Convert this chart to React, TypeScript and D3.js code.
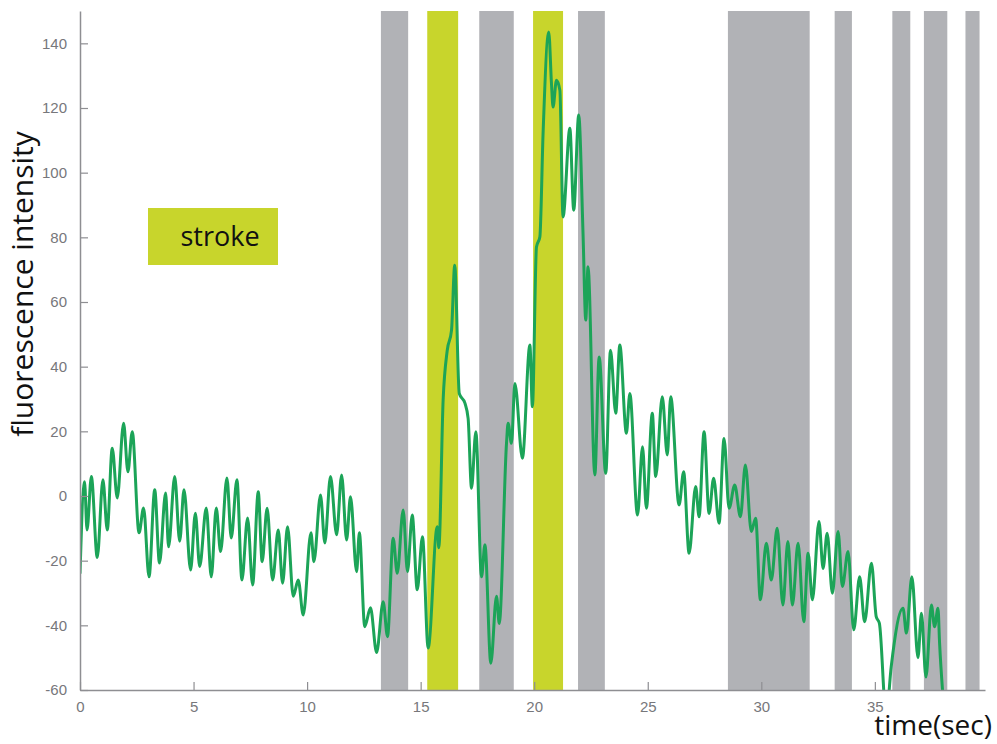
import * as d3 from "d3";
import { useEffect, useRef } from "react";

// trace: time (s) and fluorescence intensity
const times = [
  0, 0.2, 0.31, 0.5, 0.76, 1.01, 1.2, 1.42, 1.64, 1.92, 2.11, 2.3, 2.6, 2.8, 3.04, 3.29, 3.5, 3.77, 3.9, 4.17,
  4.39, 4.58, 4.87, 5.08, 5.27, 5.56, 5.78, 6.0, 6.19, 6.47, 6.66, 6.91, 7.13, 7.38, 7.6, 7.85, 8.02, 8.24, 8.48, 8.73,
  8.92, 9.14, 9.39, 9.61, 9.83, 10.17, 10.3, 10.59, 10.78, 11.03, 11.3, 11.52, 11.74, 11.91, 12.18, 12.3, 12.54, 12.79, 13.06, 13.35,
  13.54, 13.79, 13.97, 14.23, 14.42, 14.63, 14.85, 15.08, 15.33, 15.73, 15.8, 15.99, 16.17, 16.36, 16.5, 16.7, 16.95, 17.09, 17.24, 17.43,
  17.68, 17.83, 18.09, 18.34, 18.46, 18.78, 18.85, 19.0, 19.15, 19.48, 19.81, 19.92, 20.1, 20.25, 20.39, 20.64, 20.76, 20.83, 20.98, 21.13,
  21.27, 21.57, 21.74, 21.96, 22.15, 22.27, 22.37, 22.67, 22.86, 23.15, 23.36, 23.59, 23.77, 24.06, 24.21, 24.55, 24.77, 24.94, 25.2, 25.35,
  25.64, 25.86, 26.01, 26.38, 26.58, 26.82, 27.11, 27.26, 27.48, 27.7, 27.9, 28.14, 28.36, 28.58, 28.83, 29.08, 29.3, 29.56, 29.75, 29.96,
  30.22, 30.44, 30.7, 30.95, 31.17, 31.37, 31.62, 31.87, 32.06, 32.25, 32.54, 32.72, 32.9, 33.13, 33.38, 33.57, 33.82, 34.07, 34.33, 34.55,
  34.85, 35.06, 35.2, 35.5, 35.72, 36.24, 36.39, 36.63, 36.9, 37.05, 37.25, 37.49, 37.63, 37.78, 37.85, 38.0,
];
const intensity = [
  -24, 4.4, -10.5, 6, -19, 5, -10.5, 14.8, -0.6, 22.5, 7.5, 19.9, -11.4, -3.7, -25, 1.9, -20.7, 0.9, -15.7, 6,
  -14, 1.9, -22.9, -5.3, -21.8, -3.7, -25, -3.7, -17.2, 5.6, -13, 5, -26, -6.8, -27.5, 1.3, -20.3, -3.8, -26, -10.5,
  -27, -9.5, -31, -26, -36.8, -11.4, -20.3, 0.3, -14.5, 6, -12, 6.5, -13.6, -0.2, -23.4, -11.4, -40.4, -34.6, -48.4, -32.7,
  -43.5, -13.1, -23.9, -4.3, -23.4, -5.9, -29, -12.6, -47, -9.5, -16, 29.7, 45, 51.3, 71.4, 31.7, 28.7, 24, 2.4, 19.9,
  -25, -15.1, -51.7, -31, -39.4, 16.3, 22.5, 16.3, 34.8, 11.7, 46.7, 27.6, 77, 80.2, 112, 143.5, 127.6, 120.3, 128.6, 125.5,
  86.3, 113.7, 88.4, 117.8, 81.2, 54.4, 70.9, 6.5, 43, 7, 45.1, 25.6, 46.7, 19.4, 31.7, -5.9, 15.2, -3.8, 25.6, 6,
  30.7, 12.7, 30.7, -2.8, 7.5, -17.7, 2.9, -6.4, 19.9, -5.4, 5.5, -8.4, 17.8, -3.8, 3.4, -6.4, 9.6, -11, -6.9, -32.1,
  -14.6, -26, -10, -33.7, -14.1, -33.7, -14.6, -38.9, -17.7, -32.1, -7.9, -22.4, -11.5, -30.1, -11, -28, -17.2, -41.4, -25, -38.9,
  -20.8, -37.3, -39.4, -68, -52.8, -34.7, -42.4, -25, -50, -36.3, -56, -33.7, -40.4, -34.7, -45.5, -62,
];

// stimulus periods (s)
const grayStart = [13.25, 17.58, 21.93, 28.53, 33.23, 35.77, 37.16, 38.99];
const grayEnd = [14.45, 19.1, 23.11, 32.13, 33.99, 36.56, 38.19, 39.61];
const strokeStart = [15.29, 19.95];
const strokeEnd = [16.65, 21.27];

const xTicks = [0, 5, 10, 15, 20, 25, 30, 35];
const yTicks = [-60, -40, -20, 0, 20, 40, 60, 80, 100, 120, 140];

export default function App() {
  const svgRef = useRef(null);
  const width = 997;
  const height = 744;

  useEffect(() => {
    const svg = d3.select(svgRef.current);
    svg.selectAll("*").remove();

    const x = d3.scaleLinear([0, 39.85], [80, 985]);
    const y = d3.scaleLinear([-60, 150], [690, 11]);

    const gray = "#b1b2b6";
    const lime = "#c8d52c";

    svg.append("defs").append("clipPath").attr("id", "plot")
      .append("rect")
      .attr("x", x(0)).attr("y", y(150))
      .attr("width", x(39.85) - x(0)).attr("height", y(-60) - y(150));

    svg.append("g").selectAll("rect")
      .data(grayStart.map((s, i) => [s, grayEnd[i]]))
      .join("rect")
      .attr("x", d => x(d[0]))
      .attr("width", d => x(d[1]) - x(d[0]))
      .attr("y", y(150))
      .attr("height", y(-60) - y(150))
      .attr("fill", gray);

    svg.append("g").selectAll("rect")
      .data(strokeStart.map((s, i) => [s, strokeEnd[i]]))
      .join("rect")
      .attr("x", d => x(d[0]))
      .attr("width", d => x(d[1]) - x(d[0]))
      .attr("y", y(150))
      .attr("height", y(-60) - y(150))
      .attr("fill", lime);

    const line = d3.line<number>()
      .x((d, i) => x(times[i]))
      .y(d => y(d))
      .curve(d3.curveMonotoneX);

    svg.append("path")
      .attr("d", line(intensity))
      .attr("clip-path", "url(#plot)")
      .attr("fill", "none")
      .attr("stroke", "#1ca458")
      .attr("stroke-width", 3)
      .attr("stroke-linejoin", "round");

    // axes, plain hyphen minus like the original
    const fmt = (d: any) => String(d);
    const xAxis = d3.axisBottom(x).tickValues(xTicks).tickFormat(fmt).tickSize(-8).tickPadding(11).tickSizeOuter(0);
    const gx = svg.append("g").attr("transform", `translate(0,${y(-60)})`).call(xAxis);
    const yAxis = d3.axisLeft(y).tickValues(yTicks).tickFormat(fmt).tickSize(-8).tickPadding(13).tickSizeOuter(0);
    const gy = svg.append("g").attr("transform", `translate(${x(0)},0)`).call(yAxis);

    [gx, gy].forEach(g => {
      g.select(".domain").attr("stroke", "#8e8e92").attr("stroke-width", 1.5);
      g.selectAll(".tick line").attr("stroke", "#8e8e92").attr("stroke-width", 1.2);
      g.selectAll(".tick text")
        .attr("fill", "#77777b")
        .attr("font-size", 15)
        .attr("font-family", "Liberation Sans, Arial, sans-serif");
    });

    svg.append("text")
      .attr("transform", `translate(33,${284}) rotate(-90)`)
      .attr("text-anchor", "middle")
      .attr("font-family", "Open Sans, sans-serif")
      .attr("font-size", 30)
      .attr("fill", "#111")
      .text("fluorescence intensity");

    svg.append("text")
      .attr("x", 992)
      .attr("y", 735)
      .attr("text-anchor", "end")
      .attr("font-family", "Open Sans, sans-serif")
      .attr("font-size", 28)
      .attr("fill", "#111")
      .text("time(sec)");

    // legend box
    svg.append("rect")
      .attr("x", 148).attr("y", 208)
      .attr("width", 130).attr("height", 57)
      .attr("fill", lime);
    svg.append("text")
      .attr("x", 220).attr("y", 246)
      .attr("text-anchor", "middle")
      .attr("font-family", "Open Sans, sans-serif")
      .attr("font-size", 27)
      .attr("fill", "#111")
      .text("stroke");
  }, []);

  return (
    <svg
      ref={svgRef}
      width={width}
      height={height}
      viewBox={`0 0 ${width} ${height}`}
      style={{ position: "absolute", left: 0, top: 0, background: "#fff" }}
      xmlns="http://www.w3.org/2000/svg"
    />
  );
}
